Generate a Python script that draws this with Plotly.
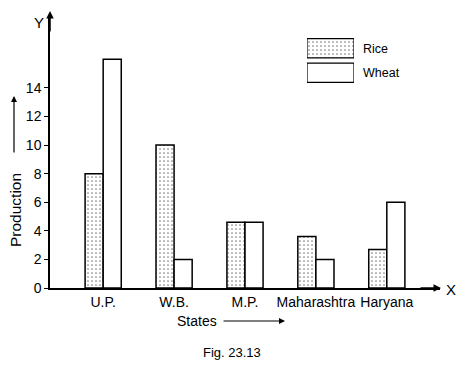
import plotly.graph_objects as go

states = ["U.P.", "W.B.", "M.P.", "Maharashtra", "Haryana"]
rice = [8, 10, 4.6, 3.6, 2.7]
wheat = [16, 2, 4.6, 2, 6]
series_names = ["Rice", "Wheat"]
y_ticks = [0, 2, 4, 6, 8, 10, 12, 14]

# the page body has an 8px margin, so the figure is 8px smaller than the window
OFF = 8
W, H = 465 - OFF, 368 - OFF
L, T = 50 - OFF, 15 - OFF
PW, PH = 390, 273
R = W - L - PW
B = H - T - PH


def px(x):
    return (x - OFF - L) / PW


def py(y):
    return (H - B - (y - OFF)) / PH


FONT = "Liberation Sans, Arial, sans-serif"
dot = dict(shape=".", size=4, solidity=0.14, fgcolor="black", bgcolor="white", fillmode="overlay")

fig = go.Figure()
fig.add_trace(go.Bar(x=states, y=rice, name="Rice", marker=dict(color="white", pattern=dot,
                                                                  line=dict(color="black", width=1.5)),
                     showlegend=False))
fig.add_trace(go.Bar(x=states, y=wheat, name="Wheat", marker=dict(color="white",
                                                                    line=dict(color="black", width=1.5)),
                     showlegend=False))
# legend key drawn on its own small axes
fig.add_trace(go.Bar(y=series_names, x=[1, 1], orientation="h", width=0.78, xaxis="x2", yaxis="y2",
                     marker=dict(color="white", line=dict(color="black", width=1.2),
                                 pattern=dict(shape=[".", ""], size=4, solidity=0.14, fgcolor="black",
                                              bgcolor="white", fillmode="overlay")),
                     showlegend=False, hoverinfo="skip"))

fig.update_layout(
    width=W, height=H, margin=dict(l=L, r=R, t=T, b=B, autoexpand=False),
    paper_bgcolor="white", plot_bgcolor="white",
    barmode="group", bargap=0.49, bargroupgap=0,
    font=dict(family=FONT, color="black", size=14),
    xaxis=dict(range=[-0.75, 4.75], showline=True, linecolor="black", linewidth=1.5,
               showgrid=False, zeroline=False, ticks="", tickfont=dict(size=14)),
    yaxis=dict(range=[0, 19.1], showline=True, linecolor="black", linewidth=1.5,
               showgrid=False, zeroline=False, ticks="outside", ticklen=4, tickcolor="black",
               tickvals=y_ticks, tickfont=dict(size=14)),
    xaxis2=dict(domain=[px(307), px(354)], range=[0, 1], anchor="y2", visible=False),
    yaxis2=dict(domain=[py(85), py(36)], range=[1.5, -0.5], anchor="x2", side="right",
                showline=False, showgrid=False, zeroline=False, ticks="",
                tickfont=dict(size=12.5), ticklabelstandoff=8),
)


def label(x, y, text, size, angle=0):
    return dict(x=px(x), y=py(y), xref="paper", yref="paper", text=text, showarrow=False,
                xanchor="center", yanchor="middle", textangle=angle, font=dict(size=size))


def arrow(x, y, ax, ay, width=1.2):
    return dict(x=px(x), y=py(y), xref="paper", yref="paper", ax=ax, ay=ay, text="",
                showarrow=True, arrowhead=2, arrowsize=1, arrowwidth=width, arrowcolor="black")


ann = [
    arrow(50, 11, 0, 22, 1.5),
    arrow(441, 288, -22, 0, 1.5),
    label(39, 22, "Y", 15),
    label(451, 289, "X", 15),
    label(15, 210, "Production", 15.5, -90),
    arrow(14, 96, 0, 58),
    label(197, 321, "States", 14),
    arrow(285, 321, -63, 0),
    label(232, 352, "Fig. 23.13", 13),
]
fig.update_layout(annotations=ann)

fig.write_html("out.html")
